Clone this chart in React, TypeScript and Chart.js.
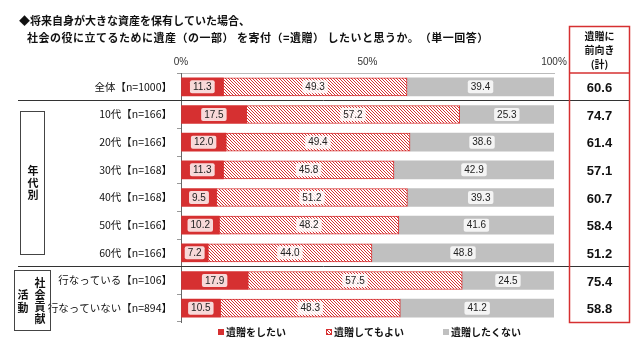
import React, { useEffect, useRef } from "react";
import { Chart, registerables } from "chart.js";

Chart.register(...registerables);

const categories = [
  "全体【n=1000】",
  "10代【n=166】",
  "20代【n=166】",
  "30代【n=168】",
  "40代【n=168】",
  "50代【n=166】",
  "60代【n=166】",
  "行なっている【n=106】",
  "行なっていない【n=894】",
];
const wantValues = [11.3, 17.5, 12.0, 11.3, 9.5, 10.2, 7.2, 17.9, 10.5];
const okValues = [49.3, 57.2, 49.4, 45.8, 51.2, 48.2, 44.0, 57.5, 48.3];
const noValues = [39.4, 25.3, 38.6, 42.9, 39.3, 41.6, 48.8, 24.5, 41.2];
const positiveTotals = [60.6, 74.7, 61.4, 57.1, 60.7, 58.4, 51.2, 75.4, 58.8];
const seriesLabels = ["遺贈をしたい", "遺贈してもよい", "遺贈したくない"];
const xTickValues = [0, 50, 100];
const titleLines = [
  "◆将来自身が大きな資産を保有していた場合、",
  "社会の役に立てるために遺産（の一部） を寄付（=遺贈） したいと思うか。　（単一回答）",
];
const panelHeader = ["遺贈に", "前向き", "(計)"];
const ageGroupChars = ["年", "代", "別"];
const socialRightChars = ["社", "会", "貢", "献"];
const socialLeftChars = ["活", "動"];

const RED = "#d63031";
const GRAY = "#c0c0c0";
const CJK = '"Noto Sans CJK JP", "Noto Sans", sans-serif';
const LAT = '"Liberation Sans", Arial, "Noto Sans CJK JP", sans-serif';

function makeHatch(ctx: CanvasRenderingContext2D): CanvasPattern | string {
  const c = document.createElement("canvas");
  c.width = 3;
  c.height = 3;
  const g = c.getContext("2d");
  if (!g) return RED;
  g.fillStyle = "#ffffff";
  g.fillRect(0, 0, 3, 3);
  g.fillStyle = RED;
  for (let i = 0; i < 3; i++) g.fillRect(i, i, 1, 1);
  return ctx.createPattern(c, "repeat") || RED;
}

function roundRect(ctx: CanvasRenderingContext2D, x: number, y: number, w: number, h: number, r: number) {
  ctx.beginPath();
  ctx.moveTo(x + r, y);
  ctx.lineTo(x + w - r, y);
  ctx.quadraticCurveTo(x + w, y, x + w, y + r);
  ctx.lineTo(x + w, y + h - r);
  ctx.quadraticCurveTo(x + w, y + h, x + w - r, y + h);
  ctx.lineTo(x + r, y + h);
  ctx.quadraticCurveTo(x, y + h, x, y + h - r);
  ctx.lineTo(x, y + r);
  ctx.quadraticCurveTo(x, y, x + r, y);
  ctx.closePath();
}

export default function App() {
  const ref = useRef<HTMLCanvasElement | null>(null);

  useEffect(() => {
    const canvas = ref.current;
    if (!canvas) return;
    const ctx0 = canvas.getContext("2d");
    if (!ctx0) return;
    const hatch = makeHatch(ctx0);

    const decor = {
      id: "decor",
      afterDatasetsDraw(chart: any) {
        const ctx: CanvasRenderingContext2D = chart.ctx;
        ctx.save();
        ctx.font = `10px ${LAT}`;
        ctx.textAlign = "center";
        ctx.textBaseline = "middle";
        chart.data.datasets.forEach((ds: any, di: number) => {
          const meta = chart.getDatasetMeta(di);
          meta.data.forEach((bar: any, i: number) => {
            const v = ds.data[i];
            const txt = Number(v).toFixed(1);
            const cx = (bar.x + bar.base) / 2;
            const cy = bar.y;
            const w = ctx.measureText(txt).width + 6;
            const h = 13;
            ctx.fillStyle = "rgba(255,255,255,0.82)";
            roundRect(ctx, cx - w / 2, cy - h / 2, w, h, 2);
            ctx.fill();
            ctx.fillStyle = "#222";
            ctx.fillText(txt, cx, cy + 0.5);
          });
        });
        ctx.restore();
      },
      afterDraw(chart: any) {
        const ctx: CanvasRenderingContext2D = chart.ctx;
        const y = chart.scales.y;
        const area = chart.chartArea;
        ctx.save();

        // title
        ctx.fillStyle = "#111";
        ctx.textAlign = "left";
        ctx.textBaseline = "middle";
        ctx.font = `bold 11px ${CJK}`;
        ctx.fillText(titleLines[0], 19, 21);
        (ctx as any).letterSpacing = "0.5px";
        ctx.fillText(titleLines[1], 27, 38);
        (ctx as any).letterSpacing = "0px";

        // separators
        const sep = (a: number, b: number) => {
          const yy = Math.round((y.getPixelForValue(a) + y.getPixelForValue(b)) / 2 - 1) + 0.5;
          ctx.strokeStyle = "#333";
          ctx.lineWidth = 1;
          ctx.beginPath();
          ctx.moveTo(18, yy);
          ctx.lineTo(629, yy);
          ctx.stroke();
        };
        sep(0, 1);
        sep(6, 7);

        // group boxes
        ctx.strokeStyle = "#444";
        ctx.lineWidth = 1;
        const ageTop = Math.round(y.getPixelForValue(1) - 4) + 0.5;
        const ageBot = Math.round(y.getPixelForValue(6) + 1) + 0.5;
        ctx.strokeRect(20.5, ageTop, 24, ageBot - ageTop);
        ctx.fillStyle = "#111";
        ctx.textAlign = "center";
        ctx.font = `bold 11px ${CJK}`;
        const ageMid = (ageTop + ageBot) / 2;
        ageGroupChars.forEach((ch, k) => ctx.fillText(ch, 33, ageMid + (k - 1) * 12));

        const socTop = Math.round(y.getPixelForValue(7) - 11) + 0.5;
        const socBot = Math.round(area.bottom + 8) + 0.5;
        ctx.strokeRect(14.5, socTop, 36, socBot - socTop);
        socialRightChars.forEach((ch, k) => ctx.fillText(ch, 40, socTop + 12 + k * 12));
        socialLeftChars.forEach((ch, k) => ctx.fillText(ch, 23, socTop + 24 + k * 13));

        // right panel
        ctx.strokeStyle = RED;
        ctx.lineWidth = 1.5;
        ctx.strokeRect(569.5, 26.5, 60, area.bottom - 26);
        ctx.beginPath();
        ctx.moveTo(569.5, area.top);
        ctx.lineTo(629.5, area.top);
        ctx.stroke();
        ctx.fillStyle = "#111";
        ctx.font = `bold 10px ${CJK}`;
        panelHeader.forEach((t, k) => ctx.fillText(t, 599.5, 36 + k * 14));
        ctx.font = `bold 13px ${LAT}`;
        positiveTotals.forEach((v, i) => {
          ctx.fillText(v.toFixed(1), 599.5, y.getPixelForValue(i) + 1.5);
        });

        // legend
        const legendX = [218, 326, 443];
        const ly = 332;
        ctx.font = `bold 10px ${CJK}`;
        ctx.textAlign = "left";
        chart.data.datasets.forEach((ds: any, di: number) => {
          const lx = legendX[di];
          ctx.fillStyle = ds.backgroundColor;
          ctx.fillRect(lx, ly - 3, 6, 6);
          if (di === 1) {
            ctx.strokeStyle = RED;
            ctx.lineWidth = 1;
            ctx.strokeRect(lx + 0.5, ly - 2.5, 5, 5);
          }
          ctx.fillStyle = "#111";
          ctx.fillText(ds.label, lx + 8, ly + 0.5);
        });

        ctx.restore();
      },
    };

    const chart = new Chart(canvas, {
      type: "bar",
      data: {
        labels: categories,
        datasets: [
          {
            label: seriesLabels[0],
            data: wantValues,
            backgroundColor: RED,
            borderWidth: 0,
            barThickness: 18,
          },
          {
            label: seriesLabels[1],
            data: okValues,
            backgroundColor: hatch as any,
            borderColor: RED,
            borderWidth: 1,
            borderSkipped: false,
            barThickness: 18,
          },
          {
            label: seriesLabels[2],
            data: noValues,
            backgroundColor: GRAY,
            borderWidth: 0,
            barThickness: 18,
          },
        ],
      },
      options: {
        indexAxis: "y",
        responsive: false,
        animation: false,
        devicePixelRatio: 1,
        layout: { padding: { left: 0, right: 86, top: 0, bottom: 25 } },
        plugins: {
          legend: { display: false },
          tooltip: { enabled: false },
          title: { display: false },
        },
        scales: {
          x: {
            type: "linear",
            position: "top",
            stacked: true,
            min: 0,
            max: 100,
            afterFit: (s: any) => {
              s.height = 73;
            },
            afterBuildTicks: (s: any) => {
              s.ticks = xTickValues.map((v) => ({ value: v }));
            },
            ticks: {
              callback: (v: any) => `${v}%`,
              font: { size: 10, family: LAT },
              color: "#333",
              padding: 5,
              maxRotation: 0,
            },
            grid: { drawOnChartArea: false, drawTicks: false },
            border: { display: true, color: "#bbbbbb" },
          },
          y: {
            stacked: true,
            afterFit: (s: any) => {
              s.width = 181;
            },
            ticks: {
              font: { size: 10.5, family: CJK },
              color: "#111",
              padding: 5,
            },
            grid: {
              drawOnChartArea: false,
              offset: true,
              tickLength: 4,
              color: "#999",
            },
            border: { display: true, color: "#666" },
          },
        },
      },
      plugins: [decor],
    } as any);

    return () => chart.destroy();
  }, []);

  return (
    <div style={{ position: "fixed", left: 0, top: 0, width: 640, height: 347, background: "#fff" }}>
      <canvas ref={ref} width={640} height={347} style={{ display: "block", width: 640, height: 347 }} />
    </div>
  );
}
